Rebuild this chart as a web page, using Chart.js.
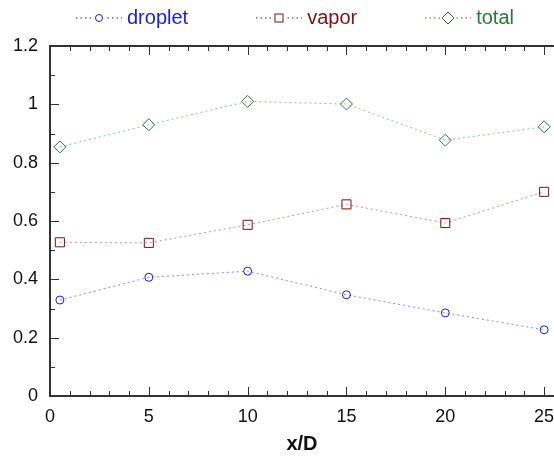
<!DOCTYPE html>
<html>
<head>
<meta charset="utf-8">
<script src="https://cdn.jsdelivr.net/npm/chart.js@4"></script>
<style>
  html, body { margin: 0; padding: 0; background: #fff; }
  #wrap { position: relative; width: 554px; height: 456px; overflow: hidden; }
  #legend { position: absolute; top: 6px; left: 76px; display: flex; align-items: center; font-family: "Liberation Sans", Arial, sans-serif; font-size: 20px; }
  .item { display: flex; align-items: center; margin-right: 68px; }
  .item svg { margin-right: 5px; }
</style>
</head>
<body>
<div id="wrap">
  <canvas id="chart" width="554" height="456"></canvas>
  <div id="legend"></div>
</div>
<script>
// x positions (x/D)
const xValues = [0.5, 5, 10, 15, 20, 25];

// series
const droplet = [0.329, 0.407, 0.428, 0.347, 0.285, 0.227];
const vapor = [0.527, 0.525, 0.587, 0.657, 0.593, 0.700];
const total = [0.854, 0.930, 1.010, 1.001, 0.877, 0.923];

// axis ticks
const xTicks = [0, 5, 10, 15, 20, 25];
const yTicks = [0, 0.2, 0.4, 0.6, 0.8, 1, 1.2];

const seriesInfo = [
    { label: 'droplet', data: droplet, color: '#1a1aee', line: 'rgba(40,40,240,0.55)', style: 'circle', radius: 4 },
    { label: 'vapor', data: vapor, color: '#7a1212', line: 'rgba(140,40,40,0.5)', style: 'rect', radius: 6.4 },
    { label: 'total', data: total, color: '#2a7a36', line: 'rgba(40,130,60,0.5)', style: 'rectRot', radius: 6 }
];

const font = "'Liberation Sans', Arial, sans-serif";

// inward ticks + top border, drawn from the scales
const axisTicks = {
    id: 'axisTicks',
    afterDraw(chart) {
        const ctx = chart.ctx;
        const area = chart.chartArea;
        const xs = chart.scales.x, ys = chart.scales.y;
        ctx.save();
        ctx.strokeStyle = '#333';
        ctx.lineWidth = 2;
        ctx.beginPath();
        ctx.moveTo(area.left, area.top);
        ctx.lineTo(area.right, area.top);
        ctx.stroke();
        ctx.lineWidth = 1;
        ctx.beginPath();
        for (let v = 0; v <= 25; v++) {
            const px = Math.round(xs.getPixelForValue(v)) + 0.5;
            const len = v % 5 === 0 ? 9 : 5;
            ctx.moveTo(px, area.bottom);
            ctx.lineTo(px, area.bottom - len);
            ctx.moveTo(px, area.top);
            ctx.lineTo(px, area.top + len);
        }
        for (let i = 0; i <= 12; i++) {
            const py = Math.round(ys.getPixelForValue(i / 10)) + 0.5;
            const len = i % 2 === 0 ? 9 : 5;
            ctx.moveTo(area.left, py);
            ctx.lineTo(area.left + len, py);
        }
        ctx.stroke();
        ctx.restore();
    }
};

function legendIcon(s) {
    let marker = '';
    if (s.style === 'circle') {
        marker = `<circle cx="23" cy="8" r="3.5" fill="none" stroke="${s.color}" stroke-width="1"/>`;
    } else if (s.style === 'rect') {
        marker = `<rect x="19" y="4" width="8" height="8" fill="none" stroke="${s.color}" stroke-width="1"/>`;
    } else {
        marker = `<polygon points="23,2 29,8 23,14 17,8" fill="none" stroke="${s.color}" stroke-width="1"/>`;
    }
    return `<svg width="46" height="16"><line x1="0" y1="8" x2="46" y2="8" stroke="${s.color}" stroke-width="1" stroke-dasharray="1.5,3"/>` +
        `<rect x="16" y="1" width="14" height="14" fill="#fff"/>${marker}</svg>`;
}

document.getElementById('legend').innerHTML = seriesInfo.map(s =>
    `<div class="item">${legendIcon(s)}<span style="color:${s.color}">${s.label}</span></div>`
).join('');

new Chart(document.getElementById('chart'), {
    type: 'line',
    data: {
        datasets: seriesInfo.map(s => ({
            label: s.label,
            data: xValues.map((x, i) => ({ x: x, y: s.data[i] })),
            borderColor: s.line,
            borderWidth: 1,
            borderDash: [2, 3],
            pointStyle: s.style,
            pointRadius: s.radius,
            pointBorderColor: s.color,
            pointBorderWidth: 1,
            pointBackgroundColor: 'rgba(0,0,0,0)',
            tension: 0,
            fill: false
        }))
    },
    options: {
        responsive: false,
        animation: false,
        layout: { autoPadding: false, padding: { top: 46, right: 0, bottom: 0, left: 0 } },
        plugins: {
            legend: { display: false },
            tooltip: { enabled: false }
        },
        scales: {
            x: {
                type: 'linear',
                min: 0,
                max: 25.5,
                afterBuildTicks: scale => { scale.ticks = xTicks.map(v => ({ value: v })); },
                afterFit: scale => { scale.height = 60; scale.paddingRight = 0; },
                grid: { display: false, drawTicks: false },
                border: { display: true, color: '#333', width: 2 },
                ticks: {
                    padding: 10,
                    color: '#111',
                    font: { family: font, size: 18 },
                    callback: v => String(v)
                },
                title: {
                    display: true,
                    text: 'x/D',
                    color: '#111',
                    font: { family: font, size: 20, weight: 'bold' },
                    padding: { top: 0, bottom: 0 }
                }
            },
            y: {
                type: 'linear',
                min: 0,
                max: 1.2,
                afterBuildTicks: scale => { scale.ticks = yTicks.map(v => ({ value: v })); },
                afterFit: scale => { scale.width = 50; },
                grid: { display: false, drawTicks: false },
                border: { display: true, color: '#333', width: 2 },
                ticks: {
                    padding: 12,
                    color: '#111',
                    font: { family: font, size: 18 },
                    callback: v => String(+v.toFixed(1))
                }
            }
        }
    },
    plugins: [axisTicks]
});
</script>
</body>
</html>
